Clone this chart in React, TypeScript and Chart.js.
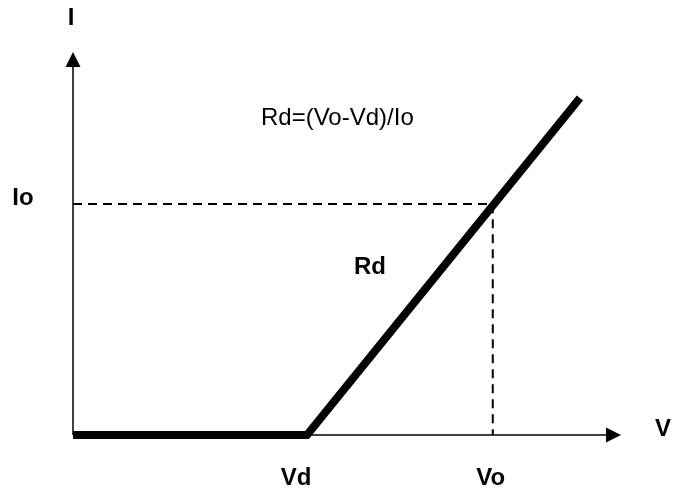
import React, { useEffect, useRef } from "react";
import { Chart, registerables } from "chart.js";

Chart.register(...registerables);

// Characteristic (piecewise linear diode model), in arbitrary units
const vCurve = [0, 4.27, 9.25];
const iCurve = [0, 0, 8.8];

// Operating point guides
const Vd = 4.27;
const Vo = 7.66;
const Io = 6.03;

// Axis ranges (arrow tips at max)
const xMax = 10;
const yMax = 10;

// Texts
const axisLabelI = "I";
const axisLabelV = "V";
const tickLabelIo = "Io";
const tickLabelVd = "Vd";
const tickLabelVo = "Vo";
const slopeLabel = "Rd";
const formulaLabel = "Rd=(Vo-Vd)/Io";

const FONT = "'Liberation Sans', Arial, Helvetica, sans-serif";

const decorPlugin = {
  id: "decor",
  beforeDatasetsDraw(chart: any) {
    const ctx = chart.ctx as CanvasRenderingContext2D;
    const xs = chart.scales.x;
    const ys = chart.scales.y;
    const x0 = xs.getPixelForValue(0);
    const y0 = ys.getPixelForValue(0);
    const xTip = xs.getPixelForValue(xMax);
    const yTip = ys.getPixelForValue(yMax);
    const aLen = 15;
    const aHalf = 7.5;
    ctx.save();
    ctx.strokeStyle = "#000";
    ctx.fillStyle = "#000";
    ctx.lineWidth = 1.5;
    // y axis
    ctx.beginPath();
    ctx.moveTo(x0, y0);
    ctx.lineTo(x0, yTip + aLen);
    ctx.stroke();
    ctx.beginPath();
    ctx.moveTo(x0, yTip);
    ctx.lineTo(x0 - aHalf, yTip + aLen);
    ctx.lineTo(x0 + aHalf, yTip + aLen);
    ctx.closePath();
    ctx.fill();
    // x axis
    ctx.beginPath();
    ctx.moveTo(x0, y0);
    ctx.lineTo(xTip - aLen, y0);
    ctx.stroke();
    ctx.beginPath();
    ctx.moveTo(xTip, y0);
    ctx.lineTo(xTip - aLen, y0 - aHalf);
    ctx.lineTo(xTip - aLen, y0 + aHalf);
    ctx.closePath();
    ctx.fill();
    ctx.restore();
  },
  afterDatasetsDraw(chart: any) {
    const ctx = chart.ctx as CanvasRenderingContext2D;
    const xs = chart.scales.x;
    const ys = chart.scales.y;
    const x0 = xs.getPixelForValue(0);
    const y0 = ys.getPixelForValue(0);
    const xTip = xs.getPixelForValue(xMax);
    const yTip = ys.getPixelForValue(yMax);
    ctx.save();
    ctx.fillStyle = "#000";
    ctx.textBaseline = "alphabetic";
    ctx.textAlign = "center";
    ctx.font = `bold 24px ${FONT}`;
    ctx.fillText(axisLabelI, x0 - 2, yTip - 27);
    ctx.fillText(axisLabelV, xTip + 42, y0 + 1);
    ctx.fillText(tickLabelIo, x0 - 50, ys.getPixelForValue(Io) + 1);
    ctx.fillText(tickLabelVd, xs.getPixelForValue(Vd) - 11, y0 + 50);
    ctx.fillText(tickLabelVo, xs.getPixelForValue(Vo) - 2, y0 + 50);
    ctx.fillText(slopeLabel, 370, 274);
    ctx.font = `24px ${FONT}`;
    ctx.textAlign = "left";
    ctx.fillText(formulaLabel, 261, 125);
    ctx.restore();
  },
};

export default function App() {
  const canvasRef = useRef<HTMLCanvasElement | null>(null);

  useEffect(() => {
    if (!canvasRef.current) return;
    const curve = vCurve.map((v, i) => ({ x: v, y: iCurve[i] }));
    const guide = [
      { x: 0, y: Io },
      { x: Vo, y: Io },
      { x: Vo, y: 0 },
    ];
    const chart = new Chart(canvasRef.current, {
      type: "scatter",
      data: {
        datasets: [
          {
            data: curve,
            showLine: true,
            borderColor: "#000",
            borderWidth: 8,
            borderJoinStyle: "miter",
            borderCapStyle: "butt",
            pointRadius: 0,
            clip: false,
            order: 0,
          } as any,
          {
            data: guide,
            showLine: true,
            borderColor: "#000",
            borderWidth: 2,
            borderDash: [9, 6],
            pointRadius: 0,
            clip: false,
            order: 1,
          } as any,
        ],
      },
      options: {
        animation: false,
        responsive: true,
        maintainAspectRatio: false,
        devicePixelRatio: 1,
        layout: { padding: { left: 73, right: 52, top: 52, bottom: 58 } },
        plugins: {
          legend: { display: false },
          tooltip: { enabled: false },
        },
        scales: {
          x: { type: "linear", display: false, min: 0, max: xMax },
          y: { type: "linear", display: false, min: 0, max: yMax },
        },
      },
      plugins: [decorPlugin],
    });
    return () => chart.destroy();
  }, []);

  return (
    <div
      style={{
        position: "fixed",
        left: 0,
        top: 0,
        width: 673,
        height: 493,
        background: "#fff",
      }}
    >
      <canvas ref={canvasRef} />
    </div>
  );
}
